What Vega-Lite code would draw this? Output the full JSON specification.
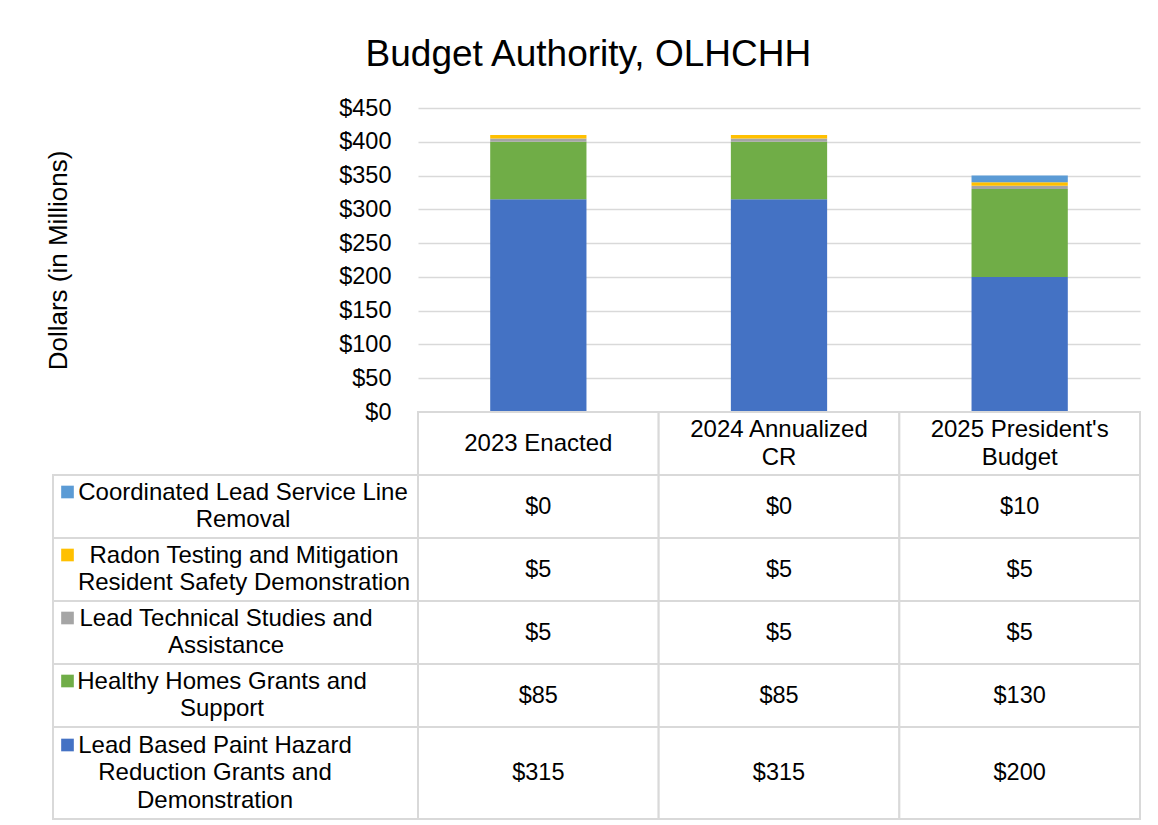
{
  "$schema": "https://vega.github.io/schema/vega-lite/v6.json",
  "padding": {"left": 45, "top": 36, "right": 16, "bottom": 5},
  "background": "white",
  "title": {
    "text": "Budget Authority, OLHCHH",
    "font": "Liberation Sans",
    "fontSize": 37,
    "fontWeight": "normal",
    "color": "#000000",
    "anchor": "middle",
    "offset": 22,
    "dx": -5
  },
  "config": {
    "view": {"stroke": null},
    "font": "Liberation Sans",
    "text": {"font": "Liberation Sans", "fontSize": 24, "color": "#000000"}
  },
  "datasets": {
    "budget": [
      {"year": "2023 Enacted", "program": "Lead Based Paint Hazard Reduction Grants and Demonstration", "amount": 315},
      {"year": "2023 Enacted", "program": "Healthy Homes Grants and Support", "amount": 85},
      {"year": "2023 Enacted", "program": "Lead Technical Studies and Assistance", "amount": 5},
      {"year": "2023 Enacted", "program": "Radon Testing and Mitigation Resident Safety Demonstration", "amount": 5},
      {"year": "2023 Enacted", "program": "Coordinated Lead Service Line Removal", "amount": 0},
      {"year": "2024 Annualized CR", "program": "Lead Based Paint Hazard Reduction Grants and Demonstration", "amount": 315},
      {"year": "2024 Annualized CR", "program": "Healthy Homes Grants and Support", "amount": 85},
      {"year": "2024 Annualized CR", "program": "Lead Technical Studies and Assistance", "amount": 5},
      {"year": "2024 Annualized CR", "program": "Radon Testing and Mitigation Resident Safety Demonstration", "amount": 5},
      {"year": "2024 Annualized CR", "program": "Coordinated Lead Service Line Removal", "amount": 0},
      {"year": "2025 President's Budget", "program": "Lead Based Paint Hazard Reduction Grants and Demonstration", "amount": 200},
      {"year": "2025 President's Budget", "program": "Healthy Homes Grants and Support", "amount": 130},
      {"year": "2025 President's Budget", "program": "Lead Technical Studies and Assistance", "amount": 5},
      {"year": "2025 President's Budget", "program": "Radon Testing and Mitigation Resident Safety Demonstration", "amount": 5},
      {"year": "2025 President's Budget", "program": "Coordinated Lead Service Line Removal", "amount": 10}
    ],
    "headers": [
      {"year": "2023 Enacted", "program": "header", "label": "2023 Enacted"},
      {"year": "2024 Annualized CR", "program": "header", "label": "2024 Annualized\nCR"},
      {"year": "2025 President's Budget", "program": "header", "label": "2025 President's\nBudget"}
    ],
    "programs": [
      {"program": "Coordinated Lead Service Line Removal", "label": "Coordinated Lead Service Line\nRemoval"},
      {"program": "Radon Testing and Mitigation Resident Safety Demonstration", "label": " Radon Testing and Mitigation\nResident Safety Demonstration"},
      {"program": "Lead Technical Studies and Assistance", "label": "Lead Technical Studies and\nAssistance"},
      {"program": "Healthy Homes Grants and Support", "label": "Healthy Homes Grants and\nSupport"},
      {"program": "Lead Based Paint Hazard Reduction Grants and Demonstration", "label": "Lead Based Paint Hazard\nReduction Grants and\nDemonstration"}
    ]
  },
  "columns": 2,
  "spacing": 0,
  "bounds": "flush",
  "concat": [
    {
      "width": 365,
      "height": 304,
      "data": {"values": [{}]},
      "mark": {"type": "text"},
      "encoding": {"text": {"value": ""}}
    },
    {
      "width": 722,
      "height": 304,
      "data": {"name": "budget"},
      "transform": [{"window": [{"op": "row_number", "as": "stackIndex"}]}],
      "mark": {"type": "bar"},
      "encoding": {
        "x": {
          "field": "year", "type": "nominal",
          "sort": ["2023 Enacted", "2024 Annualized CR", "2025 President's Budget"],
          "scale": {"paddingInner": 0.6, "paddingOuter": 0.3},
          "axis": null
        },
        "y": {
          "field": "amount", "type": "quantitative", "stack": "zero",
          "scale": {"domain": [0, 450]},
          "axis": {
            "values": [0, 50, 100, 150, 200, 250, 300, 350, 400, 450],
            "format": "$.0f",
            "ticks": false,
            "domain": false,
            "labelFont": "Liberation Sans",
            "labelFontSize": 23.5,
            "labelColor": "#000000",
            "labelPadding": 27,
            "gridColor": "#d9d9d9",
            "gridWidth": 1.5,
            "title": "Dollars (in Millions)",
            "titleFont": "Liberation Sans",
            "titleFontSize": 26,
            "titleFontWeight": "normal",
            "titleColor": "#000000",
            "titlePadding": 267
          }
        },
        "order": {"field": "stackIndex", "type": "quantitative", "sort": "ascending"},
        "color": {
          "field": "program", "type": "nominal",
          "scale": {
            "domain": [
              "Lead Based Paint Hazard Reduction Grants and Demonstration",
              "Healthy Homes Grants and Support",
              "Lead Technical Studies and Assistance",
              "Radon Testing and Mitigation Resident Safety Demonstration",
              "Coordinated Lead Service Line Removal"
            ],
            "range": ["#4472c4", "#70ad47", "#a5a5a5", "#ffc000", "#5b9bd5"]
          },
          "legend": null
        }
      }
    },
    {
      "width": 365,
      "height": 315,
      "data": {"name": "programs"},
      "transform": [{"filter": {"field": "program", "oneOf": [
        "Coordinated Lead Service Line Removal",
        "Radon Testing and Mitigation Resident Safety Demonstration",
        "Lead Technical Studies and Assistance",
        "Healthy Homes Grants and Support"
      ]}}],
      "encoding": {
        "y": {
          "field": "program", "type": "nominal",
          "scale": {"domain": [
            "header",
            "Coordinated Lead Service Line Removal",
            "Radon Testing and Mitigation Resident Safety Demonstration",
            "Lead Technical Studies and Assistance",
            "Healthy Homes Grants and Support"
          ], "paddingInner": 0, "paddingOuter": 0},
          "axis": null
        },
        "x": {"datum": "label", "type": "nominal", "scale": {"paddingInner": 0, "paddingOuter": 0}, "axis": null}
      },
      "layer": [
        {"mark": {"type": "rect", "fill": "white", "stroke": "#d9d9d9", "strokeWidth": 2}},
        {
          "transform": [{"filter": {"field": "program", "equal": "Coordinated Lead Service Line Removal"}}],
          "mark": {"type": "text", "align": "center", "baseline": "middle", "lineBreak": "\n", "lineHeight": 27.5, "fontSize": 24, "dx": 7.5, "dy": -13.75},
          "encoding": {"text": {"field": "label"}}
        },
        {
          "transform": [{"filter": {"field": "program", "equal": "Radon Testing and Mitigation Resident Safety Demonstration"}}],
          "mark": {"type": "text", "align": "center", "baseline": "middle", "lineBreak": "\n", "lineHeight": 27.5, "fontSize": 24, "dx": 8.5, "dy": -13.75},
          "encoding": {"text": {"field": "label"}}
        },
        {
          "transform": [{"filter": {"field": "program", "equal": "Lead Technical Studies and Assistance"}}],
          "mark": {"type": "text", "align": "center", "baseline": "middle", "lineBreak": "\n", "lineHeight": 27.5, "fontSize": 24, "dx": -9.5, "dy": -13.75},
          "encoding": {"text": {"field": "label"}}
        },
        {
          "transform": [{"filter": {"field": "program", "equal": "Healthy Homes Grants and Support"}}],
          "mark": {"type": "text", "align": "center", "baseline": "middle", "lineBreak": "\n", "lineHeight": 27.5, "fontSize": 24, "dx": -13.5, "dy": -13.75},
          "encoding": {"text": {"field": "label"}}
        },
        {
          "mark": {"type": "square", "size": 160, "opacity": 1, "xOffset": -168, "yOffset": 17},
          "encoding": {
            "y": {"field": "program", "type": "nominal", "bandPosition": 0},
            "color": {
              "field": "program", "type": "nominal",
              "scale": {
                "domain": [
                  "Lead Based Paint Hazard Reduction Grants and Demonstration",
                  "Healthy Homes Grants and Support",
                  "Lead Technical Studies and Assistance",
                  "Radon Testing and Mitigation Resident Safety Demonstration",
                  "Coordinated Lead Service Line Removal"
                ],
                "range": ["#4472c4", "#70ad47", "#a5a5a5", "#ffc000", "#5b9bd5"]
              },
              "legend": null
            }
          }
        }
      ]
    },
    {
      "width": 722,
      "height": 315,
      "encoding": {
        "x": {
          "field": "year", "type": "nominal",
          "sort": ["2023 Enacted", "2024 Annualized CR", "2025 President's Budget"],
          "scale": {"domain": ["2023 Enacted", "2024 Annualized CR", "2025 President's Budget"], "paddingInner": 0, "paddingOuter": 0},
          "axis": null
        },
        "y": {
          "field": "program", "type": "nominal",
          "scale": {"domain": [
            "header",
            "Coordinated Lead Service Line Removal",
            "Radon Testing and Mitigation Resident Safety Demonstration",
            "Lead Technical Studies and Assistance",
            "Healthy Homes Grants and Support"
          ], "paddingInner": 0, "paddingOuter": 0},
          "axis": null
        }
      },
      "layer": [
        {
          "data": {"name": "headers"},
          "layer": [
            {"mark": {"type": "rect", "fill": "white", "stroke": "#d9d9d9", "strokeWidth": 2}},
            {
              "transform": [{"filter": "indexof(datum.label, '\\n') < 0"}],
              "mark": {"type": "text", "align": "center", "baseline": "middle", "fontSize": 24},
              "encoding": {"text": {"field": "label"}}
            },
            {
              "transform": [{"filter": "indexof(datum.label, '\\n') >= 0"}],
              "mark": {"type": "text", "align": "center", "baseline": "middle", "lineBreak": "\n", "lineHeight": 28, "fontSize": 24, "dy": -14},
              "encoding": {"text": {"field": "label"}}
            }
          ]
        },
        {
          "data": {"name": "budget"},
          "transform": [{"filter": {"field": "program", "oneOf": [
            "Coordinated Lead Service Line Removal",
            "Radon Testing and Mitigation Resident Safety Demonstration",
            "Lead Technical Studies and Assistance",
            "Healthy Homes Grants and Support"
          ]}}],
          "layer": [
            {"mark": {"type": "rect", "fill": "white", "stroke": "#d9d9d9", "strokeWidth": 2}},
            {
              "mark": {"type": "text", "align": "center", "baseline": "middle", "fontSize": 23.5},
              "encoding": {"text": {"field": "amount", "type": "quantitative", "format": "$.0f"}}
            }
          ]
        }
      ]
    },
    {
      "width": 365,
      "height": 92,
      "data": {"name": "programs"},
      "transform": [{"filter": {"field": "program", "equal": "Lead Based Paint Hazard Reduction Grants and Demonstration"}}],
      "encoding": {
        "y": {"field": "program", "type": "nominal", "scale": {"paddingInner": 0, "paddingOuter": 0}, "axis": null},
        "x": {"datum": "label", "type": "nominal", "scale": {"paddingInner": 0, "paddingOuter": 0}, "axis": null}
      },
      "layer": [
        {"mark": {"type": "rect", "fill": "white", "stroke": "#d9d9d9", "strokeWidth": 2}},
        {
          "mark": {"type": "text", "align": "center", "baseline": "middle", "lineBreak": "\n", "lineHeight": 27.5, "fontSize": 24, "dx": -20.5, "dy": -27.5},
          "encoding": {"text": {"field": "label"}}
        },
        {
          "mark": {"type": "square", "size": 160, "opacity": 1, "color": "#4472c4", "xOffset": -168, "yOffset": 18},
          "encoding": {"y": {"field": "program", "type": "nominal", "bandPosition": 0}}
        }
      ]
    },
    {
      "width": 722,
      "height": 92,
      "data": {"name": "budget"},
      "transform": [{"filter": {"field": "program", "equal": "Lead Based Paint Hazard Reduction Grants and Demonstration"}}],
      "encoding": {
        "x": {
          "field": "year", "type": "nominal",
          "sort": ["2023 Enacted", "2024 Annualized CR", "2025 President's Budget"],
          "scale": {"paddingInner": 0, "paddingOuter": 0},
          "axis": null
        },
        "y": {"field": "program", "type": "nominal", "scale": {"paddingInner": 0, "paddingOuter": 0}, "axis": null}
      },
      "layer": [
        {"mark": {"type": "rect", "fill": "white", "stroke": "#d9d9d9", "strokeWidth": 2}},
        {
          "mark": {"type": "text", "align": "center", "baseline": "middle", "fontSize": 23.5},
          "encoding": {"text": {"field": "amount", "type": "quantitative", "format": "$.0f"}}
        }
      ]
    }
  ]
}
